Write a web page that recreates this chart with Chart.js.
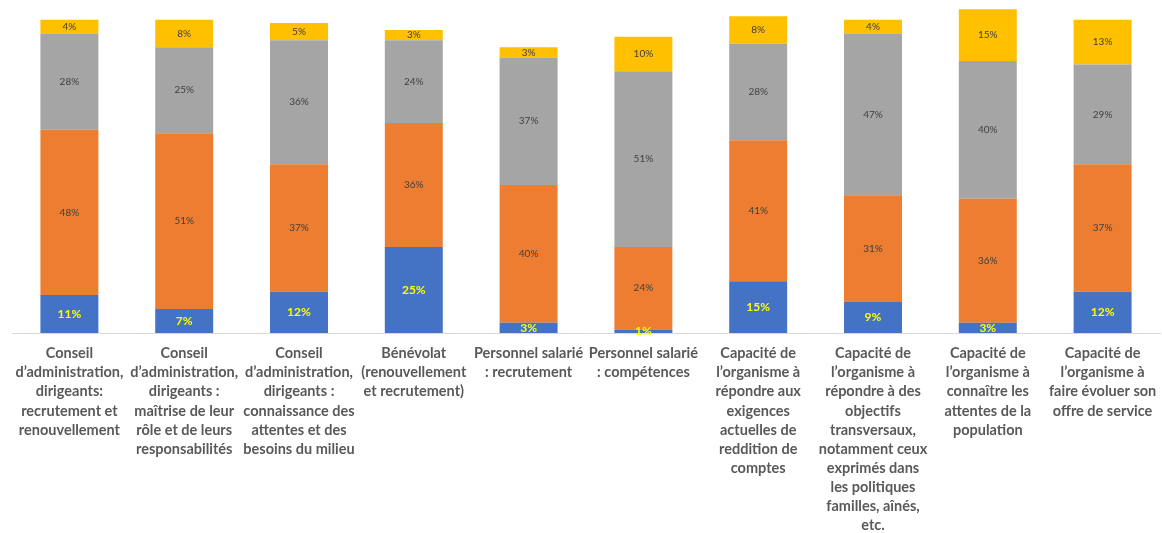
<!DOCTYPE html>
<html>
<head>
<meta charset="utf-8">
<script src="https://cdn.jsdelivr.net/npm/chart.js@4/dist/chart.umd.min.js"></script>
<style>
  body { margin: 0; background: #fff; }
  #wrap { width: 1162px; height: 533px; }
</style>
</head>
<body>
<div id="wrap"><canvas id="chart" width="1162" height="533"></canvas></div>
<script>
// =====================
// Data
// =====================
const categories = [
  ["Conseil", "d’administration,", "dirigeants:", "recrutement et", "renouvellement"],
  ["Conseil", "d’administration,", "dirigeants :", "maîtrise de leur", "rôle et de leurs", "responsabilités"],
  ["Conseil", "d’administration,", "dirigeants :", "connaissance des", "attentes et des", "besoins du milieu"],
  ["Bénévolat", "(renouvellement", "et recrutement)"],
  ["Personnel salarié", ": recrutement"],
  ["Personnel salarié", ": compétences"],
  ["Capacité de", "l’organisme à", "répondre aux", "exigences", "actuelles de", "reddition de", "comptes"],
  ["Capacité de", "l’organisme à", "répondre à des", "objectifs", "transversaux,", "notamment ceux", "exprimés dans", "les politiques", "familles, aînés,", "etc."],
  ["Capacité de", "l’organisme à", "connaître les", "attentes de la", "population"],
  ["Capacité de", "l’organisme à", "faire évoluer son", "offre de service"]
]

const blueValues   = [11, 7, 12, 25, 3, 1, 15, 9, 3, 12]
const orangeValues = [48, 51, 37, 36, 40, 24, 41, 31, 36, 37]
const grayValues   = [28, 25, 36, 24, 37, 51, 28, 47, 40, 29]
const yellowValues = [4, 8, 5, 3, 3, 10, 8, 4, 15, 13]


// =====================
// Value labels inside segments
// =====================
const segmentLabels = {
  id: "segmentLabels",
  afterDatasetsDraw(chart) {
    const ctx = chart.ctx
    ctx.save()
    ctx.textAlign = "center"
    ctx.textBaseline = "middle"
    chart.data.datasets.forEach((ds, i) => {
      const meta = chart.getDatasetMeta(i)
      meta.data.forEach((bar, j) => {
        const y = (bar.y + bar.base) / 2
        if (i === 0) {
          ctx.font = "bold 12px Lato"
          ctx.fillStyle = "#FFFF00"
        } else {
          ctx.font = "10px Lato"
          ctx.fillStyle = "#404040"
        }
        ctx.fillText(ds.data[j] + "%", bar.x, y)
      })
    })
    ctx.restore()
  }
}


// =====================
// Build chart
// =====================
new Chart(document.getElementById("chart"), {
  type: "bar",
  data: {
    labels: categories,
    datasets: [
      { label: "blue", data: blueValues, backgroundColor: "#4472C4" },
      { label: "orange", data: orangeValues, backgroundColor: "#ED7D31" },
      { label: "gray", data: grayValues, backgroundColor: "#A5A5A5" },
      { label: "yellow", data: yellowValues, backgroundColor: "#FFC000" }
    ]
  },
  options: {
    responsive: false,
    animation: false,
    layout: { padding: { left: 12, right: 2, top: 0, bottom: 0 } },
    datasets: {
      bar: { barPercentage: 0.505, categoryPercentage: 1 }
    },
    plugins: {
      legend: { display: false },
      tooltip: { enabled: false }
    },
    scales: {
      x: {
        stacked: true,
        grid: { display: false, drawTicks: false },
        border: { display: true, color: "#D9D9D9", width: 1 },
        ticks: {
          autoSkip: false,
          maxRotation: 0,
          minRotation: 0,
          padding: 11,
          color: "#595959",
          font: { family: "Lato", size: 14.5, weight: "bold", lineHeight: 1.317 }
        },
        afterFit: s => {
          s.height = 200
          s.paddingLeft = 0
          s.paddingRight = 0
        }
      },
      y: {
        stacked: true,
        display: false,
        min: 0,
        max: 96.7
      }
    }
  },
  plugins: [segmentLabels]
})
</script>
</body>
</html>
